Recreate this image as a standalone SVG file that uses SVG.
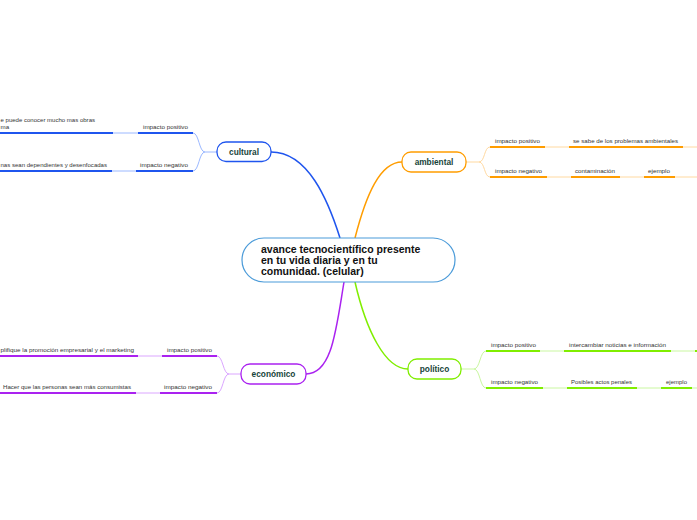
<svg xmlns="http://www.w3.org/2000/svg" width="697" height="520" viewBox="0 0 697 520">
<style>
.bg{fill:#ffffff}
.sub{font-family:"Liberation Sans",Arial,sans-serif;font-size:6.2px;fill:#333333}
.main{font-family:"Liberation Sans",Arial,sans-serif;font-size:8.3px;font-weight:bold;fill:#17443a}
.center{font-family:"Liberation Sans",Arial,sans-serif;font-size:10.5px;font-weight:bold;fill:#111111}
.box{fill:#ffffff;stroke-width:1.3}
.con{fill:none;stroke-width:1.5}
.lt{fill:none;stroke-width:1}
.ul{fill:none;stroke-width:2}
.blue{stroke:#1f55ee}.blueL{stroke:#9bb8ff}
.orange{stroke:#ff9d00}.orangeL{stroke:#ffd9a0}
.purple{stroke:#aa22f0}.purpleL{stroke:#dba6ff}
.green{stroke:#80ee00}.greenL{stroke:#c9f7a0}
</style>
<rect class="bg" x="0" y="0" width="697" height="520"/>

<g id="connectors">
  <path class="con blue" d="M271,152 C308,152 328,200 340,238"/>
  <path class="con orange" d="M355,238 C366,195 380,162 402,162"/>
  <path class="con purple" d="M344,282 C336,330 332,374 306,374"/>
  <path class="con green" d="M355,282 C366,330 385,369 408,369"/>

  <path class="lt blueL" d="M217,152 L205,152 C199,152 199,133 193,133"/>
  <path class="lt blueL" d="M205,152 C199,152 199,171 193,171"/>
  <path class="lt blueL" d="M113,133 L138,133"/>
  <path class="lt blueL" d="M112,171 L136,171"/>

  <path class="lt orangeL" d="M466,162 L479,162 C485,162 484,147 490,147"/>
  <path class="lt orangeL" d="M479,162 C485,162 484,177 490,177"/>
  <path class="lt orangeL" d="M545,147 L569,147"/>
  <path class="lt orangeL" d="M683,147 L697,147"/>
  <path class="lt orangeL" d="M547,177 L571,177"/>
  <path class="lt orangeL" d="M620,177 L644,177"/>
  <path class="lt orangeL" d="M675,177 L697,177"/>

  <path class="lt purpleL" d="M241,374 L229,374 C223,374 223,356 217,356"/>
  <path class="lt purpleL" d="M229,374 C223,374 223,393 217,393"/>
  <path class="lt purpleL" d="M138,356 L162,356"/>
  <path class="lt purpleL" d="M136,393 L160,393"/>

  <path class="lt greenL" d="M461,369 L474,369 C480,369 480,351 486,351"/>
  <path class="lt greenL" d="M474,369 C480,369 480,388 486,388"/>
  <path class="lt greenL" d="M540,351 L564,351"/>
  <path class="lt greenL" d="M671,351 L695,351"/>
  <path class="lt greenL" d="M543,388 L567,388"/>
  <path class="lt greenL" d="M637,388 L661,388"/>
  <path class="lt greenL" d="M692,388 L697,388"/>
</g>

<g id="center">
  <rect x="242" y="238" width="213" height="44" rx="22" fill="#ffffff" stroke="#4b9bd9" stroke-width="1.2"/>
  <text class="center" x="261" y="253">avance tecnocientífico presente</text>
  <text class="center" x="261" y="264">en tu vida diaria y en tu</text>
  <text class="center" x="261" y="275">comunidad. (celular)</text>
</g>

<g id="cultural">
  <rect class="box blue" x="217" y="142" width="54" height="19.5" rx="9"/>
  <text class="main" x="244" y="155" text-anchor="middle">cultural</text>
</g>
<g id="cultural-pos">
  <line class="ul blue" x1="138" y1="133" x2="193" y2="133"/>
  <text class="sub" x="143" y="129" textLength="45" lengthAdjust="spacingAndGlyphs">impacto positivo</text>
</g>
<g id="cultural-pos-1">
  <line class="ul blue" x1="0" y1="133" x2="113" y2="133"/>
  <text class="sub" x="0.5" y="122" textLength="94.5" lengthAdjust="spacingAndGlyphs">e puede conocer mucho mas obras</text>
  <text class="sub" x="0.5" y="129">ma</text>
</g>
<g id="cultural-neg">
  <line class="ul blue" x1="136" y1="171" x2="193" y2="171"/>
  <text class="sub" x="140" y="167" textLength="48" lengthAdjust="spacingAndGlyphs">impacto negativo</text>
</g>
<g id="cultural-neg-1">
  <line class="ul blue" x1="0" y1="171" x2="112" y2="171"/>
  <text class="sub" x="0.5" y="167" textLength="106.5" lengthAdjust="spacingAndGlyphs">nas sean dependientes y desenfocadas</text>
</g>

<g id="ambiental">
  <rect class="box orange" x="402" y="152" width="64" height="20" rx="9"/>
  <text class="main" x="434" y="165" text-anchor="middle">ambiental</text>
</g>
<g id="ambiental-pos">
  <line class="ul orange" x1="490" y1="147" x2="545" y2="147"/>
  <text class="sub" x="495" y="143" textLength="45" lengthAdjust="spacingAndGlyphs">impacto positivo</text>
</g>
<g id="ambiental-pos-1">
  <line class="ul orange" x1="569" y1="147" x2="683" y2="147"/>
  <text class="sub" x="573" y="143" textLength="105" lengthAdjust="spacingAndGlyphs">se sabe de los problemas ambientales</text>
</g>
<g id="ambiental-neg">
  <line class="ul orange" x1="490" y1="177" x2="547" y2="177"/>
  <text class="sub" x="495" y="173" textLength="47" lengthAdjust="spacingAndGlyphs">impacto negativo</text>
</g>
<g id="ambiental-neg-1">
  <line class="ul orange" x1="571" y1="177" x2="620" y2="177"/>
  <text class="sub" x="575" y="173" textLength="40" lengthAdjust="spacingAndGlyphs">contaminación</text>
</g>
<g id="ambiental-neg-2">
  <line class="ul orange" x1="644" y1="177" x2="675" y2="177"/>
  <text class="sub" x="648" y="173" textLength="22" lengthAdjust="spacingAndGlyphs">ejemplo</text>
</g>

<g id="economico">
  <rect class="box purple" x="241" y="364" width="65" height="20" rx="9"/>
  <text class="main" x="273.5" y="377" text-anchor="middle">económico</text>
</g>
<g id="economico-pos">
  <line class="ul purple" x1="162" y1="356" x2="217" y2="356"/>
  <text class="sub" x="167" y="352" textLength="45" lengthAdjust="spacingAndGlyphs">impacto positivo</text>
</g>
<g id="economico-pos-1">
  <line class="ul purple" x1="0" y1="356" x2="138" y2="356"/>
  <text class="sub" x="0.5" y="352" textLength="133.5" lengthAdjust="spacingAndGlyphs">plifique la promoción empresarial y el marketing</text>
</g>
<g id="economico-neg">
  <line class="ul purple" x1="160" y1="393" x2="217" y2="393"/>
  <text class="sub" x="164" y="389" textLength="48" lengthAdjust="spacingAndGlyphs">impacto negativo</text>
</g>
<g id="economico-neg-1">
  <line class="ul purple" x1="0" y1="393" x2="136" y2="393"/>
  <text class="sub" x="3" y="389" textLength="128" lengthAdjust="spacingAndGlyphs">Hacer que las personas sean más consumistas</text>
</g>

<g id="politico">
  <rect class="box green" x="408" y="359" width="53" height="20" rx="9"/>
  <text class="main" x="434.5" y="372" text-anchor="middle">político</text>
</g>
<g id="politico-pos">
  <line class="ul green" x1="486" y1="351" x2="540" y2="351"/>
  <text class="sub" x="491" y="347" textLength="45" lengthAdjust="spacingAndGlyphs">impacto positivo</text>
</g>
<g id="politico-pos-1">
  <line class="ul green" x1="564" y1="351" x2="671" y2="351"/>
  <text class="sub" x="569" y="347" textLength="97" lengthAdjust="spacingAndGlyphs">intercambiar noticias e información</text>
</g>
<g id="politico-pos-2">
  <line class="ul green" x1="695" y1="351" x2="697" y2="351"/>
</g>
<g id="politico-neg">
  <line class="ul green" x1="486" y1="388" x2="543" y2="388"/>
  <text class="sub" x="491" y="384" textLength="47" lengthAdjust="spacingAndGlyphs">impacto negativo</text>
</g>
<g id="politico-neg-1">
  <line class="ul green" x1="567" y1="388" x2="637" y2="388"/>
  <text class="sub" x="571" y="384" textLength="61" lengthAdjust="spacingAndGlyphs">Posibles actos penales</text>
</g>
<g id="politico-neg-2">
  <line class="ul green" x1="661" y1="388" x2="692" y2="388"/>
  <text class="sub" x="666" y="384" textLength="21" lengthAdjust="spacingAndGlyphs">ejemplo</text>
</g>
</svg>
